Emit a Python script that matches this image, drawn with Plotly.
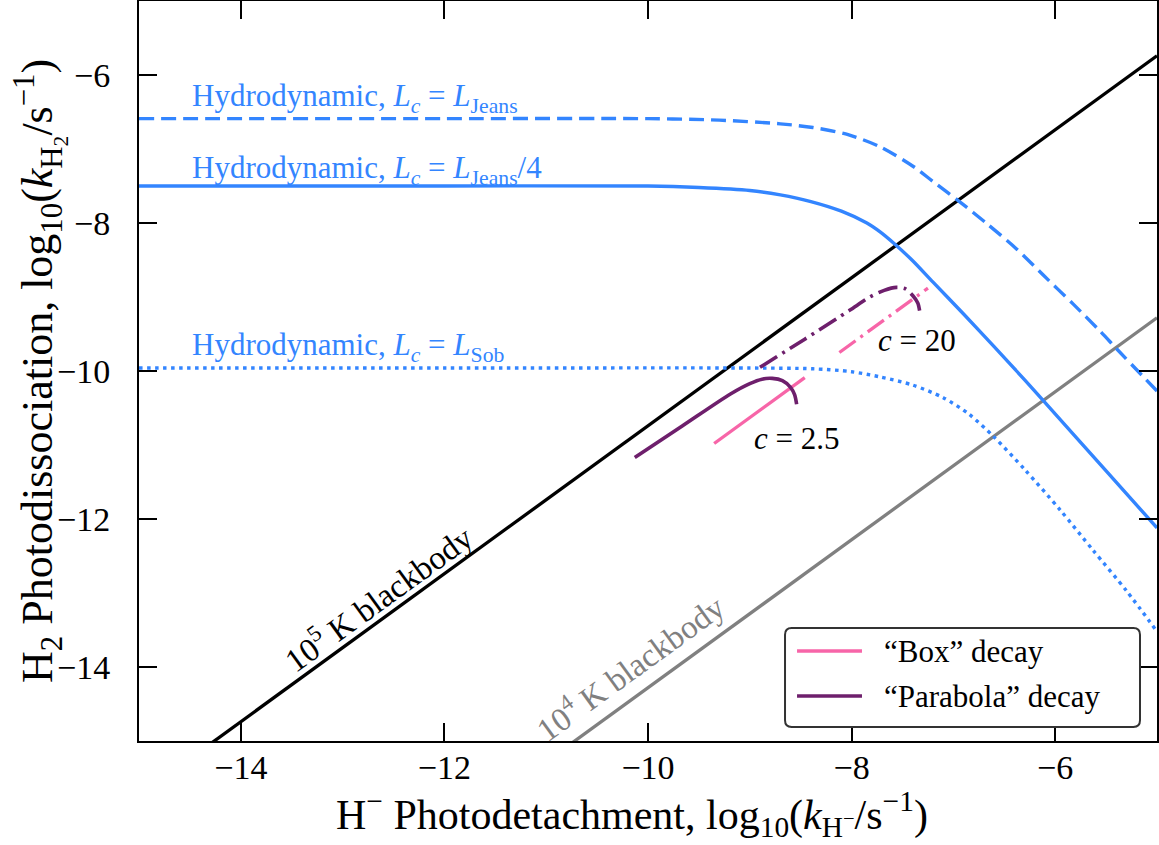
import plotly.graph_objects as go

# ---------------- data ----------------
bb5_x = [-15.0, -5.0]
bb5_y = [-15.74, -5.74]
bb4_x = [-15.0, -5.0]
bb4_y = [-19.28, -9.28]

jeans_x = [-15.0, -12.0, -10.0, -9.3, -8.70, -8.38, -8.05, -7.72, -7.39, -7.20, -6.95, -6.67, -6.38, -6.12, -5.82, -5.56, -5.39, -5.0]
jeans_y = [-6.59, -6.59, -6.59, -6.61, -6.66, -6.71, -6.80, -6.97, -7.24, -7.44, -7.70, -8.01, -8.35, -8.70, -9.10, -9.46, -9.71, -10.27]

jeans4_x = [-15.0, -12.0, -10.0, -9.5, -9.0, -8.7, -8.4, -8.1, -7.85, -7.72, -7.58, -7.4, -7.2, -6.9, -6.6, -6.3, -6.13, -5.5, -5.0]
jeans4_y = [-7.5, -7.5, -7.5, -7.52, -7.56, -7.62, -7.71, -7.84, -8.00, -8.12, -8.28, -8.51, -8.80, -9.23, -9.67, -10.12, -10.38, -11.35, -12.12]

sob_x = [-15.0, -12.0, -9.0, -8.38, -8.0, -7.72, -7.4, -7.1, -6.85, -6.61, -6.3, -5.95, -5.63, -5.30, -5.0]
sob_y = [-9.96, -9.96, -9.96, -9.97, -10.01, -10.08, -10.19, -10.36, -10.58, -10.88, -11.33, -11.88, -12.42, -12.97, -13.52]

box25_x = [-9.35, -8.46]
box25_y = [-10.98, -10.09]
box20_x = [-8.12, -7.25]
box20_y = [-9.75, -8.88]

par25_x = [-10.13, -9.66, -9.19, -9.00, -8.88, -8.78, -8.68, -8.60, -8.56, -8.54]
par25_y = [-11.17, -10.74, -10.31, -10.17, -10.11, -10.10, -10.13, -10.22, -10.32, -10.45]
par20_x = [-8.90, -8.46, -8.02, -7.82, -7.68, -7.56, -7.47, -7.40, -7.35, -7.33]
par20_y = [-9.95, -9.57, -9.18, -9.00, -8.91, -8.87, -8.89, -8.98, -9.08, -9.20]

ticks = [-14, -12, -10, -8, -6]
tick_text = ["\u221214", "\u221212", "\u221210", "\u22128", "\u22126"]

legend_labels = ["\u201cBox\u201d decay", "\u201cParabola\u201d decay"]

# ---------------- styling ----------------
BLUE = "#3385ff"
PINK = "#f765a8"
PURPLE = "#6e1f6c"
GRAY = "#808080"
FONT = "Liberation Serif"
DASHDOT = "20px,6px,3px,6px"

fig = go.Figure()

fig.add_trace(go.Scatter(x=bb5_x, y=bb5_y, mode="lines", line=dict(color="black", width=3.3)))
fig.add_trace(go.Scatter(x=bb4_x, y=bb4_y, mode="lines", line=dict(color=GRAY, width=3.3)))

fig.add_trace(go.Scatter(x=jeans_x, y=jeans_y, mode="lines", line=dict(color=BLUE, width=3.4, dash="15px,7px", shape="spline", smoothing=0.8)))
fig.add_trace(go.Scatter(x=jeans4_x, y=jeans4_y, mode="lines", line=dict(color=BLUE, width=3.4, shape="spline", smoothing=0.8)))
fig.add_trace(go.Scatter(x=sob_x, y=sob_y, mode="lines", line=dict(color=BLUE, width=3.4, dash="3.5px,4.5px", shape="spline", smoothing=0.8)))

fig.add_trace(go.Scatter(x=box25_x, y=box25_y, mode="lines", line=dict(color=PINK, width=3.3)))
fig.add_trace(go.Scatter(x=par25_x, y=par25_y, mode="lines", line=dict(color=PURPLE, width=3.6, shape="spline", smoothing=0.8)))
fig.add_trace(go.Scatter(x=box20_x, y=box20_y, mode="lines", line=dict(color=PINK, width=3.3, dash=DASHDOT)))
fig.add_trace(go.Scatter(x=par20_x, y=par20_y, mode="lines", line=dict(color=PURPLE, width=3.6, dash=DASHDOT, shape="spline", smoothing=0.8)))

# ---------------- text annotations ----------------
EQ = " = "
ann = [
    dict(x=-14.5, y=-6.31, text="Hydrodynamic, <i>L<sub>c</sub></i>" + EQ + "<i>L</i><sub>Jeans</sub>", color=BLUE, size=31, xanchor="left", angle=0),
    dict(x=-14.5, y=-7.28, text="Hydrodynamic, <i>L<sub>c</sub></i>" + EQ + "<i>L</i><sub>Jeans</sub>/4", color=BLUE, size=31, xanchor="left", angle=0),
    dict(x=-14.5, y=-9.68, text="Hydrodynamic, <i>L<sub>c</sub></i>" + EQ + "<i>L</i><sub>Sob</sub>", color=BLUE, size=31, xanchor="left", angle=0),
    dict(x=-7.36, y=-9.59, text="<i>c</i>" + EQ + "20", color="black", size=31, xanchor="center", angle=0),
    dict(x=-8.54, y=-10.91, text="<i>c</i>" + EQ + "2.5", color="black", size=31, xanchor="center", angle=0),
    dict(x=-12.66, y=-13.05, text="10<sup>5</sup> K blackbody", color="black", size=33, xanchor="center", angle=-36),
    dict(x=-10.18, y=-13.99, text="10<sup>4</sup> K blackbody", color=GRAY, size=33, xanchor="center", angle=-36),
]
for a in ann:
    fig.add_annotation(x=a["x"], y=a["y"], text=a["text"], showarrow=False,
                       xanchor=a["xanchor"], yanchor="middle", textangle=a["angle"],
                       font=dict(family=FONT, size=a["size"], color=a["color"]))

# axis titles
fig.add_annotation(xref="paper", yref="paper", x=0.484, y=-0.098, showarrow=False,
                   xanchor="center", yanchor="middle",
                   text="H<sup>\u2212</sup> Photodetachment, log<sub>10</sub>(<i>k</i><sub>H<sup>\u2212</sup></sub>/s<sup>\u22121</sup>)",
                   font=dict(family=FONT, size=42, color="black"))
fig.add_annotation(xref="paper", yref="paper", x=-0.0973, y=0.5, showarrow=False,
                   xanchor="center", yanchor="middle", textangle=-90,
                   text="H<sub>2</sub> Photodissociation, log<sub>10</sub>(<i>k</i><sub>H<sub>2</sub></sub>/s<sup>\u22121</sup>)",
                   font=dict(family=FONT, size=44, color="black"))

# ---------------- manual legend ----------------
lx0, lx1, ly0, ly1 = 0.6346, 0.9833, 0.0189, 0.1527
rx, ry = 0.0065, 0.009
path = (f"M{lx0+rx},{ly0} L{lx1-rx},{ly0} Q{lx1},{ly0} {lx1},{ly0+ry} "
        f"L{lx1},{ly1-ry} Q{lx1},{ly1} {lx1-rx},{ly1} "
        f"L{lx0+rx},{ly1} Q{lx0},{ly1} {lx0},{ly1-ry} "
        f"L{lx0},{ly0+ry} Q{lx0},{ly0} {lx0+rx},{ly0} Z")
fig.add_shape(type="path", path=path, xref="paper", yref="paper",
              fillcolor="white", line=dict(color="#333333", width=2), layer="above")
leg_rows = [(0.1216, PINK), (0.0608, PURPLE)]
for (yy, col), lab in zip(leg_rows, legend_labels):
    fig.add_shape(type="line", xref="paper", yref="paper", x0=0.6464, x1=0.7102, y0=yy, y1=yy,
                  line=dict(color=col, width=3.6), layer="above")
    fig.add_annotation(xref="paper", yref="paper", x=0.730, y=yy, showarrow=False,
                       xanchor="left", yanchor="middle", text=lab,
                       font=dict(family=FONT, size=31, color="black"))

axis_common = dict(
    showline=True, linecolor="black", linewidth=2, mirror="allticks",
    ticks="inside", ticklen=18, tickwidth=2, tickcolor="black",
    showgrid=False, zeroline=False, automargin=False,
    tickvals=ticks, ticktext=tick_text,
    tickfont=dict(family=FONT, size=34, color="black"),
)

fig.update_layout(
    width=1159, height=845,
    margin=dict(l=139, r=2, t=1, b=104),
    plot_bgcolor="white", paper_bgcolor="white",
    font=dict(family=FONT, color="black"),
    xaxis=dict(range=[-15, -5], ticklabelstandoff=-5, **axis_common),
    yaxis=dict(range=[-15, -5], ticklabelstandoff=20, **axis_common),
    showlegend=False,
)

fig.write_html("out.html", config={"displayModeBar": False},
               post_script="document.body.style.margin='0px';document.body.style.padding='0px';")
